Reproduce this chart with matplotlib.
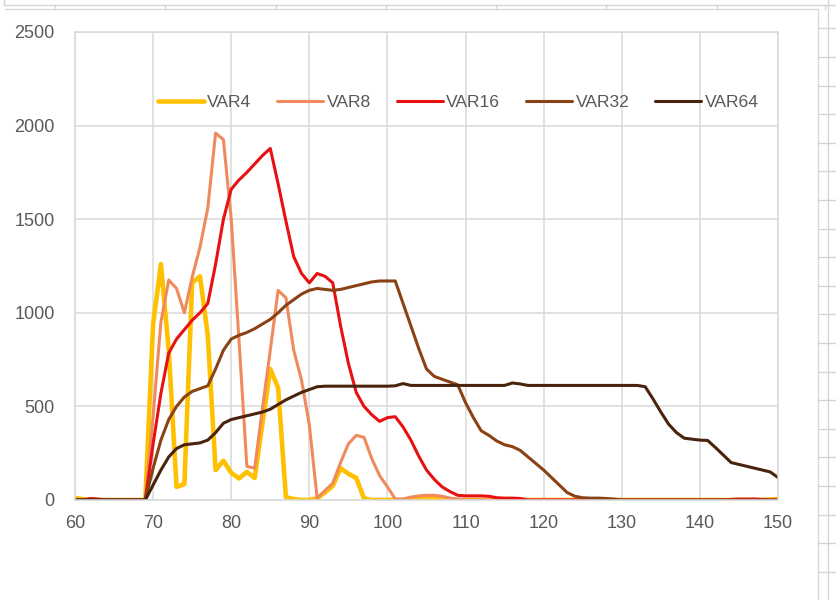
import matplotlib
matplotlib.use("Agg")
import matplotlib.pyplot as plt
from matplotlib.lines import Line2D
import numpy as np

# ---------------- data ----------------
x_values = list(range(60, 151))

var4 = [10, 5, 0, 0, 0, 0, 0, 0, 0, 0,                      # 60-69
        940, 1260, 800, 70, 85, 1160, 1195, 880, 160, 210,   # 70-79
        145, 115, 150, 118, 410, 700, 600, 15, 5, 0,         # 80-89
        0, 10, 40, 75, 170, 140, 118, 8, 0, 0,               # 90-99
        0, 0, 0, 10, 15, 15, 12, 8, 0, 0,                    # 100-109
        0, 0, 0, 0, 0, 0, 0, 0, 0, 0,                        # 110-119
        0, 0, 0, 0, 0, 0, 0, 0, 0, 0,                        # 120-129
        0, 0, 0, 0, 0, 0, 0, 0, 0, 0,                        # 130-139
        0, 0, 0, 0, 0, 0, 0, 0, 0, 3,                        # 140-149
        5]                                                   # 150

var8 = [0, 0, 0, 0, 0, 0, 0, 0, 0, 0,
        450, 950, 1175, 1130, 1000, 1190, 1350, 1560, 1960, 1925,
        1500, 850, 180, 170, 490, 800, 1120, 1080, 800, 640,
        400, 10, 50, 90, 200, 300, 345, 335, 220, 130,
        70, 5, 5, 15, 22, 25, 25, 20, 10, 5,
        0, 0, 0, 0, 0, 0, 0, 0, 0, 0,
        0, 0, 0, 0, 0, 0, 0, 0, 0, 0,
        0, 0, 0, 0, 0, 0, 0, 0, 0, 0,
        0, 0, 0, 0, 0, 0, 0, 0, 0, 0,
        0]

var16 = [0, 0, 8, 5, 0, 0, 0, 0, 0, 0,
         300, 570, 785, 860, 910, 960, 1000, 1050, 1260, 1500,
         1660, 1710, 1750, 1795, 1840, 1878, 1690, 1490, 1300, 1210,
         1160, 1210, 1195, 1160, 930, 730, 575, 500, 455, 420,
         440, 445, 390, 320, 235, 160, 110, 70, 45, 25,
         22, 22, 22, 20, 12, 10, 10, 8, 0, 0,
         0, 0, 0, 0, 0, 0, 0, 0, 0, 0,
         0, 0, 0, 0, 0, 0, 0, 0, 0, 0,
         0, 0, 0, 0, 3, 5, 5, 5, 3, 0,
         0]

var32 = [0, 0, 0, 0, 0, 0, 0, 0, 0, 0,
         170, 320, 430, 500, 550, 580, 595, 610, 700, 800,
         860, 880, 895, 915, 940, 965, 1000, 1040, 1070, 1100,
         1120, 1130, 1125, 1120, 1125, 1135, 1145, 1155, 1165, 1170,
         1170, 1170, 1050, 930, 810, 700, 660, 645, 630, 615,
         520, 440, 370, 345, 315, 295, 285, 265, 230, 195,
         160, 120, 80, 40, 20, 12, 10, 10, 8, 5,
         0, 0, 0, 0, 0, 0, 0, 0, 0, 0,
         0, 0, 0, 0, 0, 0, 0, 0, 0, 0,
         0]

var64 = [0, 0, 0, 0, 0, 0, 0, 0, 0, 0,
         80, 160, 230, 275, 295, 300, 305, 320, 360, 410,
         430, 440, 450, 460, 470, 485, 510, 535, 555, 575,
         590, 605, 608, 608, 608, 608, 608, 608, 608, 608,
         608, 610, 622, 612, 612, 612, 612, 612, 612, 612,
         612, 612, 612, 612, 612, 612, 625, 620, 612, 612,
         612, 612, 612, 612, 612, 612, 612, 612, 612, 612,
         612, 612, 612, 605, 540, 470, 405, 360, 330, 325,
         320, 318, 280, 240, 200, 190, 180, 170, 160, 150,
         120]

series_names = ["VAR4", "VAR8", "VAR16", "VAR32", "VAR64"]
series_data = [var4, var8, var16, var32, var64]
series_colors = ["#FFC000", "#F08A5D", "#E81010", "#8A4215", "#4A230D"]
series_widths = [3.3, 2.2, 2.2, 2.2, 2.2]

x_ticks = [60, 70, 80, 90, 100, 110, 120, 130, 140, 150]
y_ticks = [0, 500, 1000, 1500, 2000, 2500]

# ---------------- figure ----------------
W, H = 836, 600
fig = plt.figure(figsize=(W / 100, H / 100), dpi=100)
fig.patch.set_facecolor("white")

def fx(px):
    return px / W

def fy(py):
    return 1 - py / H

ax = fig.add_axes([fx(75), fy(500), fx(778) - fx(75), fy(32) - fy(500)])

for name, data, col, lw in zip(series_names, series_data, series_colors, series_widths):
    ax.plot(x_values, data, color=col, lw=lw, label=name,
            solid_joinstyle="round", solid_capstyle="round")

ax.set_xlim(60, 150)
ax.set_ylim(0, 2500)
ax.set_xticks(x_ticks)
ax.set_yticks(y_ticks)
ax.set_xticklabels([str(t) for t in x_ticks])
ax.set_yticklabels([str(t) for t in y_ticks])

grid_col = "#D9D9D9"
ax.grid(True, color=grid_col, lw=1.1)
ax.set_axisbelow(True)
for sp in ax.spines.values():
    sp.set_color(grid_col)
    sp.set_linewidth(1.1)

ax.tick_params(length=0, labelsize=13, labelcolor="#595959")
ax.tick_params(axis="x", pad=11)
ax.tick_params(axis="y", pad=14.5)
for lab in ax.get_xticklabels() + ax.get_yticklabels():
    lab.set_fontfamily("Liberation Sans")

leg = ax.legend(loc="center", bbox_to_anchor=(0.545, 0.85), ncol=5, frameon=False,
                handlelength=2.65, handletextpad=0.2, columnspacing=1.45,
                prop={"family": "Liberation Sans", "size": 12.6})
for t in leg.get_texts():
    t.set_color("#595959")

# ---------------- spreadsheet surroundings ----------------
line_col = "#D4D4D4"
def add_line(x0, y0, x1, y1, col=line_col, lw=1.0):
    fig.add_artist(Line2D([fx(x0), fx(x1)], [fy(y0), fy(y1)], color=col, lw=lw,
                          transform=fig.transFigure))

add_line(4, 0, 4, 5)
add_line(4, 5, 836, 5)
for cx in [55, 165, 276, 386, 496, 606, 717, 825]:
    add_line(cx, 5, cx, 9)
add_line(5, 9, 818, 9, col="#D9D9D9")
add_line(818, 9, 818, 600, col="#D9D9D9")
add_line(828, 0, 828, 600)
ry = 28.3
while ry < 600:
    add_line(818, ry, 836, ry)
    ry += 28.6

fig.savefig("out.png", dpi=100)
